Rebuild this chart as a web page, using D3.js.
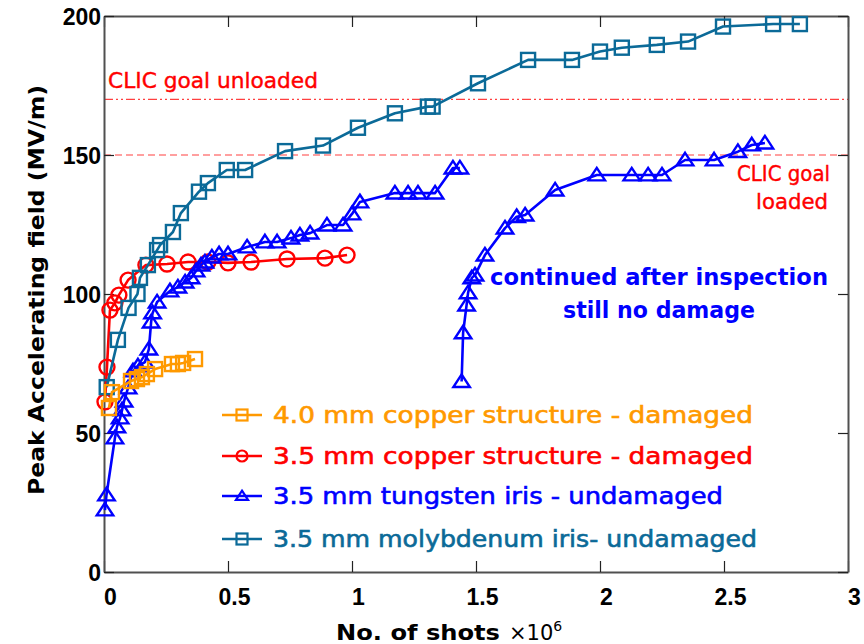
<!DOCTYPE html>
<html>
<head>
<meta charset="utf-8">
<script src="https://cdn.jsdelivr.net/npm/d3@7"></script>
<style>
  html, body { margin: 0; padding: 0; background: #fff; }
  svg { display: block; }
</style>
</head>
<body>
<svg id="chart" width="864" height="644"></svg>
<script>
// Shots (×10^6) and peak accelerating field (MV/m) for each structure
const copper40Shots = [0.020, 0.032, 0.109, 0.133, 0.153, 0.173, 0.206, 0.274, 0.298, 0.319, 0.367];
const copper40Field = [59.0, 64.7, 68.7, 69.4, 70.1, 71.2, 73.0, 74.8, 74.8, 75.2, 76.6];

const copper35Shots = [0.004, 0.012, 0.024, 0.044, 0.060, 0.097, 0.169, 0.254, 0.339, 0.419, 0.500, 0.593, 0.738, 0.891, 0.980];
const copper35Field = [61.2, 73.7, 94.2, 96.8, 99.6, 105.0, 110.4, 110.8, 111.5, 111.5, 111.2, 111.5, 112.6, 112.9, 114.0];

const tungstenShots = [0.004, 0.010, 0.044, 0.052, 0.065, 0.073, 0.081, 0.097, 0.117, 0.137, 0.165, 0.181, 0.190, 0.196, 0.214,
  0.266, 0.298, 0.327, 0.351, 0.371, 0.391, 0.407, 0.435, 0.464, 0.500, 0.577, 0.649, 0.698, 0.754, 0.790, 0.831,
  0.899, 0.964, 1.000, 1.032, 1.173, 1.226, 1.266, 1.335, 1.407, 1.435];
const tungstenField = [22.3, 27.7, 48.2, 52.2, 55.4, 58.3, 61.5, 66.2, 72.3, 74.1, 75.5, 80.2, 89.9, 93.2, 97.1,
  101.1, 102.5, 104.3, 105.8, 108.3, 110.4, 111.5, 113.3, 114.4, 114.4, 116.9, 118.7, 118.7, 120.1, 121.2, 121.9,
  124.8, 124.8, 128.8, 133.1, 136.3, 136.3, 136.3, 136.3, 145.3, 145.3];

// tungsten iris, run continued after inspection
const tungsten2Shots = [1.442, 1.448, 1.462, 1.468, 1.483, 1.496, 1.536, 1.617, 1.664, 1.698, 1.819, 1.987, 2.128, 2.194,
  2.250, 2.343, 2.460, 2.556, 2.612, 2.665];
const tungsten2Field = [68.5, 86.0, 96.0, 100.4, 105.8, 106.8, 114.0, 123.7, 127.8, 128.4, 137.4, 142.8, 142.8, 142.8,
  142.8, 148.2, 148.2, 151.2, 153.6, 154.3];

const molyShots = [0.011, 0.056, 0.099, 0.135, 0.145, 0.177, 0.214, 0.226, 0.278, 0.310, 0.383, 0.419, 0.495, 0.569,
  0.730, 0.883, 1.024, 1.173, 1.306, 1.325, 1.508, 1.710, 1.887, 2.000, 2.088, 2.229, 2.355, 2.496, 2.698, 2.806];
const molyField = [66.5, 83.5, 95.0, 100.0, 105.8, 110.4, 115.8, 117.6, 122.3, 129.1, 136.8, 139.9, 144.6, 144.6,
  151.4, 153.4, 159.8, 165.0, 167.4, 167.4, 175.8, 184.2, 184.2, 187.2, 188.6, 189.6, 190.8, 196.2, 197.1, 197.1];

// CLIC gradient goals (MV/m)
const goalUnloaded = 170;
const goalLoaded = 150;

const xTicks = [0, 0.5, 1, 1.5, 2, 2.5, 3];
const yTicks = [0, 50, 100, 150, 200];

const legendLabels = [
  "4.0 mm copper structure - damaged",
  "3.5 mm copper structure - damaged",
  "3.5 mm tungsten iris - undamaged",
  "3.5 mm molybdenum iris- undamaged"
];

const COL_ORANGE = "#ff9900";
const COL_RED = "#ff0000";
const COL_BLUE = "#0000ff";
const COL_TEAL = "#0b6a98";
const COMIC = "'Comic Sans MS', 'DejaVu Sans', sans-serif";

const svg = d3.select("#chart");
const plot = { left: 104, top: 16, right: 848, bottom: 572 };

const x = d3.scaleLinear().domain([0, 3]).range([plot.left, plot.right]);
const y = d3.scaleLinear().domain([0, 200]).range([plot.bottom, plot.top]);

// goal lines
svg.append("line")
  .attr("x1", x(0)).attr("x2", x(3))
  .attr("y1", y(goalUnloaded)).attr("y2", y(goalUnloaded))
  .attr("stroke", COL_RED).attr("stroke-opacity", 0.75).attr("stroke-width", 1.2)
  .attr("stroke-dasharray", "9,3,2,3,2,3");
svg.append("line")
  .attr("x1", x(0)).attr("x2", x(3))
  .attr("y1", y(goalLoaded)).attr("y2", y(goalLoaded))
  .attr("stroke", COL_RED).attr("stroke-opacity", 0.75).attr("stroke-width", 1.2)
  .attr("stroke-dasharray", "7,4");

// axes with inward ticks on all four sides
const fmtX = d => d === 0 ? "0" : String(d);
const axisBottom = d3.axisBottom(x).tickValues(xTicks).tickSizeInner(-11).tickSizeOuter(0).tickFormat(fmtX);
const axisTop = d3.axisTop(x).tickValues(xTicks).tickSizeInner(-11).tickSizeOuter(0).tickFormat("");
const axisLeft = d3.axisLeft(y).tickValues(yTicks).tickSizeInner(-10).tickSizeOuter(0).tickFormat(d3.format("d"));
const axisRight = d3.axisRight(y).tickValues(yTicks).tickSizeInner(-10).tickSizeOuter(0).tickFormat("");

function styleAxis(g) {
  g.select(".domain").attr("stroke", "#505050").attr("stroke-width", 2);
  g.selectAll(".tick line").attr("stroke", "#222").attr("stroke-width", 1.2);
  g.selectAll(".tick text")
    .attr("fill", "#000")
    .style("font-family", "'Liberation Sans', Arial, sans-serif")
    .style("font-weight", "bold")
    .style("font-size", "23px");
}

const gx = svg.append("g").attr("transform", `translate(0,${plot.bottom})`).call(axisBottom).call(styleAxis);
gx.selectAll(".tick text").attr("y", 17).attr("dy", "0.71em").attr("dx", 6);
svg.append("g").attr("transform", `translate(0,${plot.top})`).call(axisTop).call(styleAxis);
const gy = svg.append("g").attr("transform", `translate(${plot.left},0)`).call(axisLeft).call(styleAxis);
gy.selectAll(".tick text").attr("x", -3).attr("dy", "0.36em");
svg.append("g").attr("transform", `translate(${plot.right},0)`).call(axisRight).call(styleAxis);

// marker shapes
const markers = {
  square: (g, s) => g.append("rect").attr("x", -s / 2).attr("y", -s / 2).attr("width", s).attr("height", s),
  circle: (g, s) => g.append("circle").attr("r", s / 2),
  triangle: (g, s) => g.append("path")
    .attr("d", `M0,${-s * 0.48}L${s * 0.55},${s * 0.36}L${-s * 0.55},${s * 0.36}Z`)
};

function drawSeries(xs, ys, color, shape, size) {
  const pts = xs.map((v, i) => [v, ys[i]]);
  const line = d3.line().x(d => x(d[0])).y(d => y(d[1]));
  const g = svg.append("g");
  g.append("path").datum(pts)
    .attr("d", line).attr("fill", "none")
    .attr("stroke", color).attr("stroke-width", 2.6).attr("stroke-linejoin", "round");
  g.selectAll("g.mk").data(pts).enter().append("g")
    .attr("class", "mk")
    .attr("transform", d => `translate(${x(d[0])},${y(d[1])})`)
    .each(function () {
      markers[shape](d3.select(this), size)
        .attr("fill", "none").attr("stroke", color).attr("stroke-width", 2.4);
    });
}

drawSeries(copper35Shots, copper35Field, COL_RED, "circle", 15);
drawSeries(molyShots, molyField, COL_TEAL, "square", 14);
drawSeries(tungstenShots, tungstenField, COL_BLUE, "triangle", 15);
drawSeries(tungsten2Shots, tungsten2Field, COL_BLUE, "triangle", 15);
drawSeries(copper40Shots, copper40Field, COL_ORANGE, "square", 14);

// annotations
function note(txt, px, py, color, size, weight, len, anchor) {
  const t = svg.append("text")
    .attr("x", px).attr("y", py)
    .attr("fill", color)
    .style("font-family", COMIC)
    .style("font-size", size + "px")
    .style("font-weight", weight)
    .attr("text-anchor", anchor || "start")
    .text(txt);
  if (len) t.attr("textLength", len).attr("lengthAdjust", "spacingAndGlyphs");
  return t;
}

note("CLIC goal unloaded", 108, 88, COL_RED, 21, "normal", 210).attr("stroke", COL_RED).attr("stroke-width", 0.4);
note("CLIC goal", 737, 181, COL_RED, 21, "normal", 93).attr("stroke", COL_RED).attr("stroke-width", 0.4);
note("loaded", 756, 209, COL_RED, 21, "normal", 72).attr("stroke", COL_RED).attr("stroke-width", 0.4);
note("continued after inspection", 490, 285, COL_BLUE, 23, "bold", 338);
note("still no damage", 563, 318, COL_BLUE, 23, "bold", 192);

// legend
const legendColors = [COL_ORANGE, COL_RED, COL_BLUE, COL_TEAL];
const legendShapes = ["square", "circle", "triangle", "square"];
const legendRowY = [415, 456, 496, 539];
const legendLens = [480, 480, 450, 484];
legendLabels.forEach((lab, i) => {
  const g = svg.append("g").attr("transform", `translate(0,${legendRowY[i]})`);
  g.append("line").attr("x1", 222).attr("x2", 262).attr("y1", 0).attr("y2", 0)
    .attr("stroke", legendColors[i]).attr("stroke-width", 2.6);
  const mk = g.append("g").attr("transform", "translate(242,0)");
  markers[legendShapes[i]](mk, 11).attr("fill", "none").attr("stroke", legendColors[i]).attr("stroke-width", 2.2);
  g.append("text")
    .attr("x", 273).attr("y", 8)
    .attr("fill", legendColors[i])
    .attr("stroke", legendColors[i]).attr("stroke-width", 0.6)
    .style("font-family", COMIC)
    .style("font-size", "23px")
    .style("font-weight", "normal")
    .attr("textLength", legendLens[i]).attr("lengthAdjust", "spacingAndGlyphs")
    .text(lab);
});

// axis titles
svg.append("text")
  .attr("x", 336).attr("y", 640)
  .attr("fill", "#000")
  .style("font-family", COMIC)
  .style("font-size", "21px")
  .style("font-weight", "bold")
  .attr("textLength", 164).attr("lengthAdjust", "spacingAndGlyphs")
  .text("No. of shots");
const xt = svg.append("text")
  .attr("x", 509).attr("y", 640)
  .attr("fill", "#000")
  .style("font-family", COMIC)
  .style("font-size", "21px")
  .style("font-weight", "normal");
xt.append("tspan").text("×10");
xt.append("tspan").attr("dy", -9).style("font-size", "14px").text("6");

svg.append("text")
  .attr("transform", "translate(44,290) rotate(-90)")
  .attr("text-anchor", "middle")
  .attr("fill", "#000")
  .style("font-family", COMIC)
  .style("font-size", "22px")
  .style("font-weight", "bold")
  .attr("textLength", 410).attr("lengthAdjust", "spacingAndGlyphs")
  .text("Peak Accelerating field (MV/m)");
</script>
</body>
</html>
